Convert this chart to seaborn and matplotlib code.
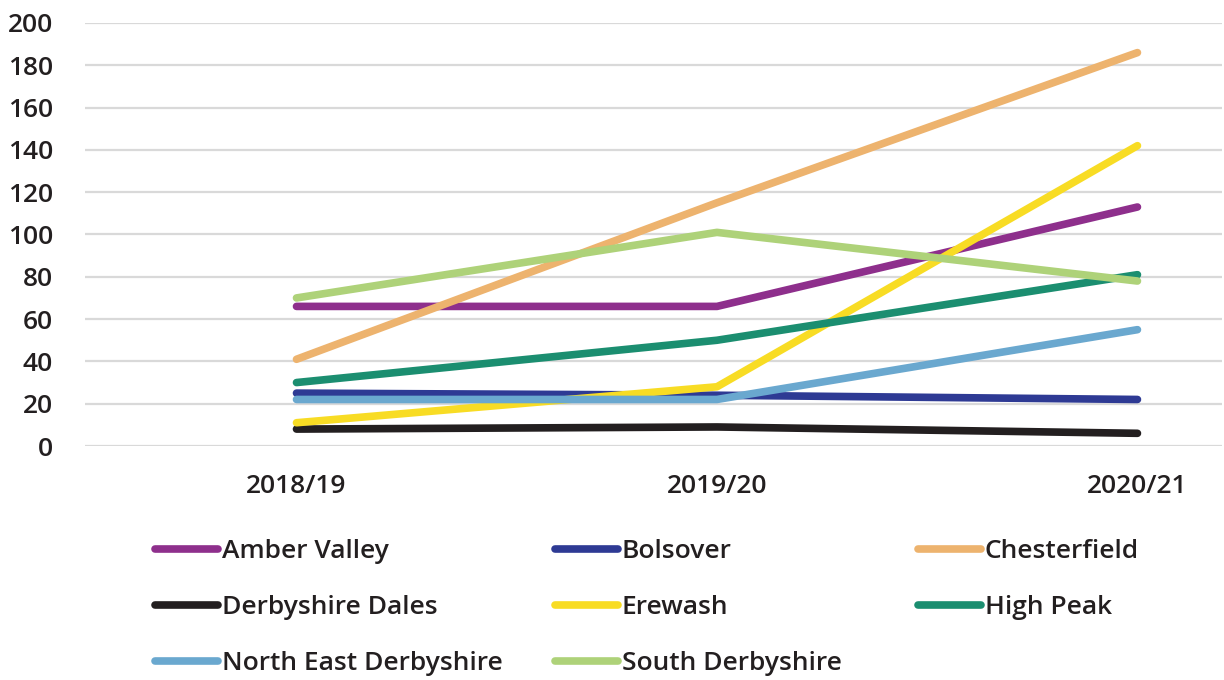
import pandas as pd
import numpy as np
import seaborn as sns
import matplotlib.pyplot as plt

# Данные
years = ['2018/19', '2019/20', '2020/21']
districts = ['Amber Valley', 'Bolsover', 'Chesterfield', 'Derbyshire Dales',
             'Erewash', 'High Peak', 'North East Derbyshire', 'South Derbyshire']
amber_valley = [66, 66, 113]
bolsover = [25, 24, 22]
chesterfield = [41, 115, 186]
derbyshire_dales = [8, 9, 6]
erewash = [11, 28, 142]
high_peak = [30, 50, 81]
north_east_derbyshire = [22, 22, 55]
south_derbyshire = [70, 101, 78]

colors = ['#8E2F8C', '#2E3A94', '#EDB36E', '#231F20',
          '#F8DC24', '#1B8E70', '#6AA8CF', '#AED279']

series = [amber_valley, bolsover, chesterfield, derbyshire_dales,
          erewash, high_peak, north_east_derbyshire, south_derbyshire]
rows = []
for name, vals in zip(districts, series):
    for yr, v in zip(years, vals):
        rows.append({'year': yr, 'district': name, 'value': v})
df = pd.DataFrame(rows)

sns.set_theme(style='white')
plt.rcParams['font.family'] = ['Open Sans', 'DejaVu Sans']
plt.rcParams['font.weight'] = 600
text_color = '#231F20'
fs = 19

fig = plt.figure(figsize=(12.24, 6.8), dpi=100)
ax = fig.add_axes([85 / 1224, 1 - 446 / 680, 1 - 85 / 1224 - 0.002, (446 - 23) / 680])

sns.lineplot(data=df, x='year', y='value', hue='district', hue_order=districts,
             palette=colors, linewidth=5.5, sort=False, ax=ax, legend=False,
             solid_capstyle='round')

ax.set_ylim(0, 200)
ax.set_yticks(np.arange(0, 201, 20))
ax.set_xlim(-0.503, 2.2)
ax.yaxis.grid(True, color='#D9D9D9', linewidth=1.6)
ax.set_axisbelow(True)
for s in ax.spines.values():
    s.set_visible(False)
ax.set_xlabel('')
ax.set_ylabel('')
ax.tick_params(axis='both', length=0, labelsize=fs, labelcolor=text_color)
ax.tick_params(axis='y', pad=23)
ax.tick_params(axis='x', pad=20)
for lab in ax.get_xticklabels() + ax.get_yticklabels():
    lab.set_fontweight(600)

# Легенда: три колонки, как в исходнике
handles = ax.get_lines()[:len(districts)]
col_x = [155, 555, 918]
col_idx = [[0, 3, 6], [1, 4, 7], [2, 5]]
for cx, idx in zip(col_x, col_idx):
    leg = fig.legend([handles[i] for i in idx], [districts[i] for i in idx],
                     loc='upper left', bbox_to_anchor=(cx / 1224, 1 - 539 / 680),
                     frameon=False, fontsize=fs, handlelength=2.4, handletextpad=0.13,
                     labelspacing=1.17, borderpad=0, borderaxespad=0)
    for t in leg.get_texts():
        t.set_color(text_color)
        t.set_fontweight(600)
    for l in leg.get_lines():
        l.set_linewidth(5.5)
        l.set_solid_capstyle('round')

fig.savefig('out.png', dpi=100)
